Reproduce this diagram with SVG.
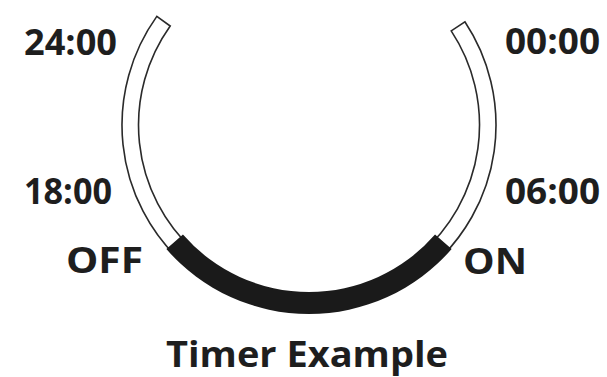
<svg xmlns="http://www.w3.org/2000/svg" width="607" height="377" viewBox="0 0 607 377">
  <style>
    .lbl { font-family: "Open Sans", "Liberation Sans", sans-serif; font-weight: 700; font-size: 35px; fill: #1e1e1e; }
    .band { fill: #ffffff; stroke: #2a2a2a; stroke-width: 1.6; }
    .on { fill: #1a1a1a; stroke: none; }
  </style>
  <rect width="607" height="377" fill="#ffffff"/>
  <g id="dial">
    <path class="band" d="M 464.9,21.8 A 187 187 0 1 1 156.8,16.4 L 170.2,26.0 A 170.5 170.5 0 1 0 451.2,30.9 Z"/>
    <path class="on" d="M 451.64,249.0 A 189 189 0 0 1 166.36,249.0 L 182.96,234.56 A 167 167 0 0 0 435.04,234.56 Z"/>
  </g>
  <g id="labels">
    <text class="lbl" x="24" y="55" textLength="93" lengthAdjust="spacingAndGlyphs">24:00</text>
    <text class="lbl" x="505" y="54" textLength="95" lengthAdjust="spacingAndGlyphs">00:00</text>
    <text class="lbl" x="24" y="204" textLength="88" lengthAdjust="spacingAndGlyphs">18:00</text>
    <text class="lbl" x="505" y="204" textLength="95" lengthAdjust="spacingAndGlyphs">06:00</text>
    <text class="lbl" x="66" y="273" font-size="33" textLength="77" lengthAdjust="spacingAndGlyphs">OFF</text>
    <text class="lbl" x="463" y="274" font-size="33" textLength="64" lengthAdjust="spacingAndGlyphs">ON</text>
    <text class="lbl" x="166" y="367" textLength="282" lengthAdjust="spacingAndGlyphs">Timer Example</text>
  </g>
</svg>
